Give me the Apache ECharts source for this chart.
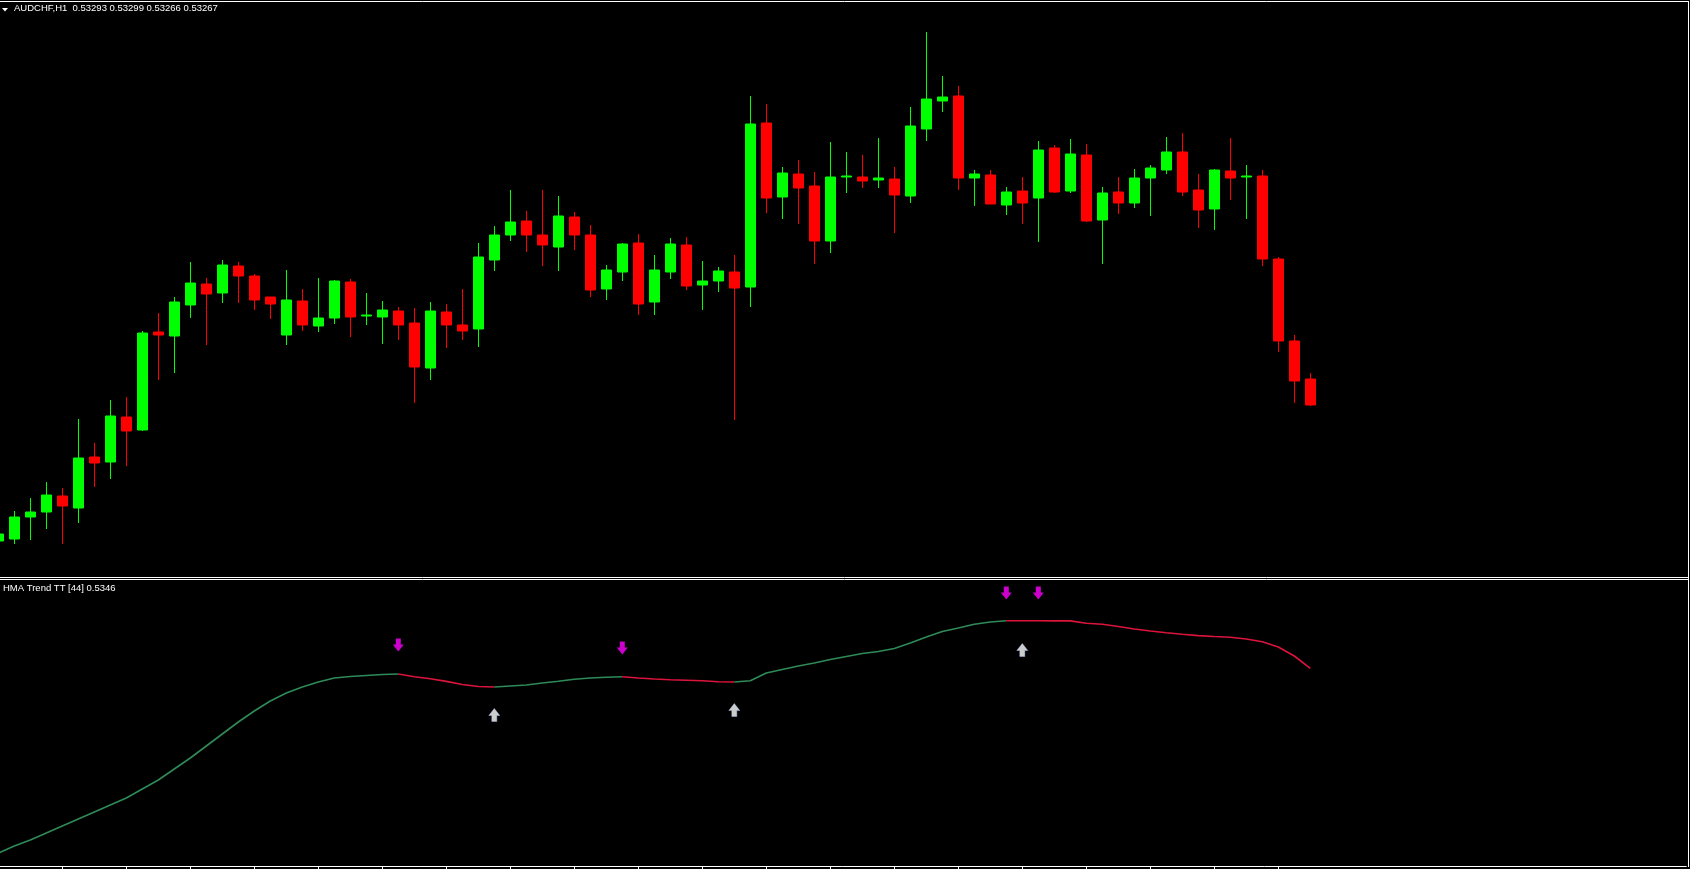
<!DOCTYPE html>
<html>
<head>
<meta charset="utf-8">
<script src="https://cdn.jsdelivr.net/npm/echarts@6/dist/echarts.min.js"></script>
<style>
html,body{margin:0;padding:0;background:#000;}
#c{width:1690px;height:869px;}
</style>
</head>
<body>
<div id="c"></div>
<script>
const symbolName = 'AUDCHF,H1';
const hmaName = 'HMA Trend TT [44]';

const openP = [
0.53131,0.53133,0.53155,0.53160,0.53176,0.53164,0.53215,0.53210,0.53255,0.53242,
0.53340,0.53336,0.53367,0.53388,0.53379,0.53406,0.53396,0.53375,0.53337,0.53371,
0.53346,0.53354,0.53390,0.53356,0.53355,0.53361,0.53349,0.53304,0.53360,0.53347,
0.53343,0.53412,0.53437,0.53451,0.53437,0.53425,0.53455,0.53437,0.53383,0.53400,
0.53429,0.53370,0.53400,0.53427,0.53387,0.53391,0.53400,0.53385,0.53549,0.53475,
0.53498,0.53486,0.53431,0.53495,0.53495,0.53492,0.53493,0.53476,0.53543,0.53571,
0.53576,0.53494,0.53497,0.53467,0.53481,0.53474,0.53524,0.53481,0.53517,0.53452,
0.53480,0.53469,0.53494,0.53502,0.53520,0.53482,0.53463,0.53501,0.53495,0.53496,
0.53413,0.53331,0.53293];

const closeP = [
0.53138,0.53155,0.53160,0.53177,0.53166,0.53214,0.53209,0.53256,0.53241,0.53339,
0.53337,0.53370,0.53389,0.53378,0.53407,0.53396,0.53372,0.53368,0.53372,0.53347,
0.53354,0.53391,0.53355,0.53357,0.53362,0.53347,0.53305,0.53361,0.53347,0.53341,
0.53415,0.53437,0.53450,0.53437,0.53427,0.53456,0.53437,0.53382,0.53402,0.53428,
0.53368,0.53402,0.53428,0.53386,0.53391,0.53401,0.53384,0.53548,0.53474,0.53499,
0.53484,0.53431,0.53495,0.53496,0.53491,0.53494,0.53477,0.53546,0.53573,0.53575,
0.53494,0.53498,0.53468,0.53480,0.53469,0.53522,0.53480,0.53518,0.53451,0.53479,
0.53469,0.53494,0.53504,0.53520,0.53480,0.53462,0.53502,0.53494,0.53496,0.53413,
0.53331,0.53291,0.53267];

const lowP = [
0.53130,0.53128,0.53132,0.53143,0.53128,0.53149,0.53185,0.53193,0.53206,0.53241,
0.53292,0.53299,0.53354,0.53327,0.53369,0.53369,0.53362,0.53353,0.53327,0.53341,
0.53340,0.53348,0.53335,0.53347,0.53328,0.53332,0.53269,0.53292,0.53324,0.53332,
0.53325,0.53401,0.53431,0.53420,0.53406,0.53401,0.53422,0.53375,0.53372,0.53391,
0.53357,0.53357,0.53393,0.53382,0.53362,0.53380,0.53252,0.53365,0.53459,0.53453,
0.53448,0.53408,0.53419,0.53479,0.53484,0.53484,0.53439,0.53469,0.53531,0.53560,
0.53482,0.53466,0.53468,0.53457,0.53448,0.53430,0.53479,0.53479,0.53450,0.53408,
0.53458,0.53464,0.53456,0.53498,0.53476,0.53444,0.53442,0.53472,0.53453,0.53406,
0.53320,0.53269,0.53266];

const highP = [
0.53139,0.53161,0.53174,0.53190,0.53184,0.53253,0.53229,0.53272,0.53275,0.53341,
0.53359,0.53375,0.53410,0.53394,0.53412,0.53410,0.53398,0.53375,0.53402,0.53383,
0.53394,0.53392,0.53393,0.53379,0.53371,0.53365,0.53364,0.53370,0.53368,0.53383,
0.53429,0.53446,0.53482,0.53461,0.53482,0.53476,0.53460,0.53447,0.53407,0.53429,
0.53438,0.53417,0.53434,0.53435,0.53411,0.53405,0.53417,0.53576,0.53568,0.53505,
0.53512,0.53500,0.53530,0.53520,0.53517,0.53534,0.53505,0.53565,0.53640,0.53596,
0.53586,0.53502,0.53502,0.53485,0.53495,0.53531,0.53527,0.53533,0.53528,0.53485,
0.53495,0.53503,0.53507,0.53535,0.53539,0.53498,0.53503,0.53534,0.53507,0.53502,
0.53415,0.53337,0.53299];

const hmaValues = [
0.53275,0.53282,0.53288,0.53295,0.53302,0.53309,0.53316,0.53323,0.53330,0.53339,
0.53348,0.53359,0.53370,0.53382,0.53394,0.53406,0.53417,0.53427,0.53435,0.53441,
0.53446,0.53450,0.534515,0.534525,0.534535,0.53454,0.534513,0.534492,0.534466,0.534435,
0.534415,0.53441,0.53442,0.53443,0.53445,0.534467,0.534487,0.53450,0.534507,0.534513,
0.53450,0.53449,0.534483,0.534478,0.534473,0.534463,0.53446,0.534473,0.53455,0.534585,
0.53462,0.53465,0.534685,0.534715,0.534745,0.534765,0.534795,0.53485,0.53491,0.534965,
0.53500,0.535038,0.53506,0.535073,0.5350725,0.535072,0.5350715,0.535071,0.535047,0.535037,
0.535015,0.53499,0.53497,0.534953,0.534937,0.534924,0.534915,0.534907,0.53489,0.534862,
0.53481,0.53472,0.534597];

const downArrowIdx = [25, 39, 63, 65];
const downArrowVal = [0.53483, 0.53480, 0.53535, 0.53535];
const upArrowIdx = [31, 46, 64];
const upArrowVal = [0.53413, 0.53418, 0.53478];

const totalSlots = 106;
const categories = Array.from({length: totalSlots}, (_, i) => String(i));

const candleData = openP.map((o, i) => [o, closeP[i], lowP[i], highP[i]]);

const greenLine = hmaValues.map((v, i) => {
  const upPrev = i > 0 && hmaValues[i] >= hmaValues[i - 1];
  const upNext = i < hmaValues.length - 1 && hmaValues[i + 1] >= hmaValues[i];
  return (upPrev || upNext) ? v : '-';
});
const redLine = hmaValues.map((v, i) => {
  const dnPrev = i > 0 && hmaValues[i] < hmaValues[i - 1];
  const dnNext = i < hmaValues.length - 1 && hmaValues[i + 1] < hmaValues[i];
  return (dnPrev || dnNext) ? v : '-';
});

const last = openP.length - 1;
const headText = symbolName + '  ' + openP[last].toFixed(5) + ' ' + highP[last].toFixed(5) + ' ' +
  lowP[last].toFixed(5) + ' ' + closeP[last].toFixed(5);
const hmaText = hmaName + ' ' + hmaValues[last].toFixed(4);

const downPath = 'path://M3,0 L8,0 L8,6 L11,6 L5.5,13 L0,6 L3,6 Z';
const upPath = 'path://M5.5,0 L11,7 L8,7 L8,13 L3,13 L3,7 L0,7 Z';

const chart = echarts.init(document.getElementById('c'), null, {renderer: 'canvas'});
chart.setOption({
  backgroundColor: '#000000',
  animation: false,
  title: [
    {text: headText, left: 14, top: 3, padding: 0,
     textStyle: {color: '#ffffff', fontSize: 9.5, fontWeight: 'normal', fontFamily: 'Liberation Sans'}},
    {text: hmaText, left: 3, top: 583, padding: 0,
     textStyle: {color: '#ffffff', fontSize: 9.5, fontWeight: 'normal', fontFamily: 'Liberation Sans'}}
  ],
  grid: [
    {left: -9.7, top: 2, width: totalSlots * 16, height: 575, containLabel: false, outerBoundsMode: 'none'},
    {left: -9.7, top: 580, width: totalSlots * 16, height: 286, containLabel: false, outerBoundsMode: 'none'}
  ],
  xAxis: [
    {type: 'category', gridIndex: 0, data: categories, boundaryGap: true,
     axisLine: {show: false}, axisTick: {show: false}, axisLabel: {show: false}, splitLine: {show: false}},
    {type: 'category', gridIndex: 1, data: categories, boundaryGap: true,
     axisLine: {show: true, lineStyle: {color: '#ffffff', width: 1}},
     axisTick: {show: true, alignWithLabel: true, length: 3, inside: false,
       interval: (idx) => idx % 4 === 0 && idx < openP.length,
       lineStyle: {color: '#ffffff', width: 1}},
     axisLabel: {show: false}, splitLine: {show: false}}
  ],
  yAxis: [
    {type: 'value', gridIndex: 0, min: 0.53095, max: 0.53670, show: false, splitLine: {show: false}},
    {type: 'value', gridIndex: 1, min: 0.53262, max: 0.53548, show: false, splitLine: {show: false}}
  ],
  graphic: [
    {type: 'polygon', shape: {points: [[2, 8], [8, 8], [5, 11.5]]}, style: {fill: '#ffffff'}, silent: true},
    {type: 'line', shape: {x1: 0, y1: 1.5, x2: 1689, y2: 1.5}, style: {stroke: '#ffffff', lineWidth: 1}, silent: true},
    {type: 'line', shape: {x1: 0, y1: 577.5, x2: 1689, y2: 577.5}, style: {stroke: '#ffffff', lineWidth: 1}, silent: true},
    {type: 'line', shape: {x1: 0, y1: 579.5, x2: 1689, y2: 579.5}, style: {stroke: '#ffffff', lineWidth: 1}, silent: true},
    {type: 'line', shape: {x1: 1688.5, y1: 1, x2: 1688.5, y2: 867}, style: {stroke: '#ffffff', lineWidth: 1}, silent: true}
  ],
  series: [
    {type: 'candlestick', xAxisIndex: 0, yAxisIndex: 0, data: candleData, barWidth: 10,
     itemStyle: {color: '#00ff00', color0: '#ff0000', borderColor: '#00ff00', borderColor0: '#ff0000', borderWidth: 1}},
    {type: 'line', xAxisIndex: 1, yAxisIndex: 1, data: greenLine, showSymbol: false, connectNulls: false,
     lineStyle: {color: '#2e8b57', width: 1.6}},
    {type: 'line', xAxisIndex: 1, yAxisIndex: 1, data: redLine, showSymbol: false, connectNulls: false,
     lineStyle: {color: '#dc143c', width: 1.6}},
    {type: 'scatter', xAxisIndex: 1, yAxisIndex: 1, symbol: downPath, symbolSize: [11, 13],
     data: downArrowIdx.map((x, i) => [x, downArrowVal[i]]),
     itemStyle: {color: '#ff00ff'}},
    {type: 'scatter', xAxisIndex: 1, yAxisIndex: 1, symbol: upPath, symbolSize: [11, 13],
     data: upArrowIdx.map((x, i) => [x, upArrowVal[i]]),
     itemStyle: {color: '#ffffff', borderColor: '#b0c8ff', borderWidth: 0.5}}
  ]
});
</script>
</body>
</html>
